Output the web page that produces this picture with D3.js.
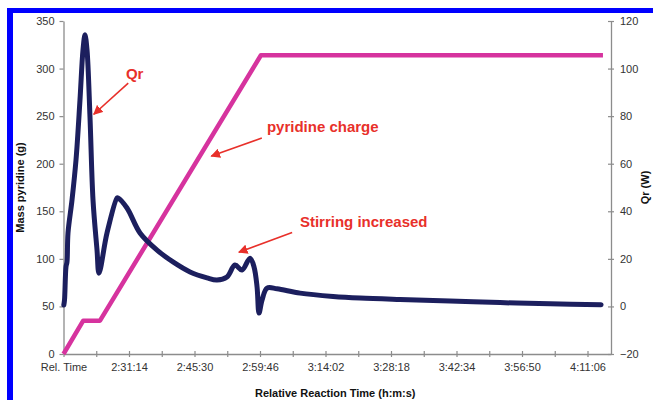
<!DOCTYPE html>
<html>

<head>
    <meta charset="utf-8">
    <title>Qr and pyridine charge</title>
    <script src="https://cdn.jsdelivr.net/npm/d3@7"></script>
    <style>
        body { margin: 0; background: white; }
        text { font-family: Arial, "Liberation Sans", sans-serif; }
    </style>
</head>

<body>
    <script>
        // elapsed minutes from "Rel. Time" origin
        var pyrTime = [0, 4.3, 7.95, 43.0, 117.5];
        var pyrMass = [0, 35, 35, 314, 314];

        var qrTime = [0.07, 0.22, 0.54, 0.76, 0.98, 1.85, 2.72, 3.59, 4.25, 4.68, 5.12, 5.77, 6.43, 7.3, 7.73,
            9.48, 11.66, 11.87, 13.83, 16.66, 20.37, 23.85, 27.56, 31.26, 33.43, 35.61, 37.36, 38.88, 40.63,
            41.5, 42.16, 42.59, 43.25, 44.34, 46.52, 51.53, 58.72, 64.6, 73.3, 84.2, 95.1, 106.0, 117.1];
        var qrWatts = [0.6, 2.7, 16.6, 18.7, 30.9, 44.7, 61.5, 86.8, 107.9, 114.2, 107.9, 79.6, 44.7, 23.7, 14.0,
            30.9, 45.6, 45.6, 41.4, 30.9, 23.7, 18.7, 14.5, 12.0, 11.1, 12.4, 17.4, 15.3, 20.3,
            16.6, 8.2, -2.8, 2.7, 7.7, 7.4, 5.6, 4.2, 3.5, 2.9, 2.3, 1.6, 1.1, 0.7];

        var tickLabels = ["Rel. Time", "2:31:14", "2:45:30", "2:59:46", "3:14:02", "3:28:18", "3:42:34", "3:56:50", "4:11:06"];
        var leftTicks = [0, 50, 100, 150, 200, 250, 300, 350];
        var rightTicks = [-20, 0, 20, 40, 60, 80, 100, 120];

        // annotations: text anchor and arrow (from -> to) in minutes / W
        var notes = [
            { label: "Qr", tx: 13.6, ty: 95.6, x1: 14.1, y1: 93.9, x2: 6.6, y2: 80.8 },
            { label: "pyridine charge", tx: 44.3, ty: 73.3, x1: 43.2, y1: 70.8, x2: 32.2, y2: 63.2 },
            { label: "Stirring increased", tx: 51.5, ty: 33.4, x1: 49.8, y1: 31.1, x2: 38.2, y2: 22.8 }
        ];

        var W = 653, H = 400;
        var plot = { left: 63.5, right: 611, top: 21, bottom: 354 };
        var minPerTick = 856 / 60 / 2;

        var svg = d3.select("body").append("svg")
            .attr("width", W)
            .attr("height", H);

        svg.append("rect").attr("width", W).attr("height", H).attr("fill", "white");
        // blue frame
        svg.append("rect").attr("x", 7).attr("y", 8).attr("width", W - 7).attr("height", 5).attr("fill", "#0000ff");
        svg.append("rect").attr("x", 7).attr("y", 8).attr("width", 6).attr("height", H - 8).attr("fill", "#0000ff");

        var x = d3.scaleLinear()
            .domain([0, (plot.right - plot.left) / (65.5 / (856 / 60))])
            .range([plot.left, plot.right]);
        var yL = d3.scaleLinear().domain([0, 350]).range([plot.bottom, plot.top]);
        var yR = d3.scaleLinear().domain([-20, 120]).range([plot.bottom, plot.top]);

        var tickVals = d3.range(0, 17).map(function (i) { return i * minPerTick; });

        // x axis
        var xAxis = svg.append("g")
            .attr("transform", "translate(0," + plot.bottom + ")")
            .call(d3.axisBottom(x).tickValues(tickVals).tickSizeInner(3).tickSizeOuter(0)
                .tickFormat(function (d, i) { return i % 2 === 0 ? tickLabels[i / 2] : ""; }));
        xAxis.selectAll(".tick line").attr("y1", -3).attr("y2", 3);

        var yAxisL = svg.append("g")
            .attr("transform", "translate(" + plot.left + ",0)")
            .call(d3.axisLeft(yL).tickValues(leftTicks).tickSizeInner(4).tickSizeOuter(0));

        var yAxisR = svg.append("g")
            .attr("transform", "translate(" + plot.right + ",0)")
            .call(d3.axisRight(yR).tickValues(rightTicks).tickSizeInner(3).tickSizeOuter(0)
                .tickFormat(d3.format("d")));
        yAxisR.selectAll(".tick line").attr("x1", -3).attr("x2", 3);

        svg.selectAll(".domain").attr("stroke", "#8c8c8c").attr("stroke-width", 1.3);
        svg.selectAll(".tick line").attr("stroke", "#8c8c8c").attr("stroke-width", 1.2);
        svg.selectAll(".tick text").attr("fill", "#333").style("font-size", "11px")
            .style("font-family", "Arial, 'Liberation Sans', sans-serif");
        xAxis.selectAll(".tick text").attr("dy", "1.05em").attr("y", 5);
        yAxisL.selectAll(".tick text").attr("x", -9);
        yAxisR.selectAll(".tick text").attr("x", 9);

        // pyridine charge
        var pyr = pyrTime.map(function (t, i) { return [t, pyrMass[i]]; });
        svg.append("path")
            .datum(pyr)
            .attr("fill", "none")
            .attr("stroke", "#d6339e")
            .attr("stroke-width", 4.5)
            .attr("stroke-linejoin", "round")
            .attr("d", d3.line().x(d => x(d[0])).y(d => yL(d[1])));

        // Qr
        var qr = qrTime.map(function (t, i) { return [t, qrWatts[i]]; });
        svg.append("path")
            .datum(qr)
            .attr("fill", "none")
            .attr("stroke", "#1c1f5e")
            .attr("stroke-width", 5)
            .attr("stroke-linejoin", "round")
            .attr("stroke-linecap", "round")
            .attr("d", d3.line().curve(d3.curveCatmullRom.alpha(0.5)).x(d => x(d[0])).y(d => yR(d[1])));

        // arrows and labels
        svg.append("defs").append("marker")
            .attr("id", "head")
            .attr("viewBox", "0 0 10 10")
            .attr("refX", 9).attr("refY", 5)
            .attr("markerWidth", 6).attr("markerHeight", 6)
            .attr("orient", "auto")
            .append("path").attr("d", "M0,0L10,5L0,10z").attr("fill", "#e8302a");

        notes.forEach(function (n) {
            svg.append("line")
                .attr("x1", x(n.x1)).attr("y1", yR(n.y1))
                .attr("x2", x(n.x2)).attr("y2", yR(n.y2))
                .attr("stroke", "#e8302a")
                .attr("stroke-width", 1.6)
                .attr("marker-end", "url(#head)");
            svg.append("text")
                .attr("x", x(n.tx)).attr("y", yR(n.ty))
                .attr("fill", "#e8302a")
                .style("font-weight", "bold")
                .style("font-size", "15px")
                .text(n.label);
        });

        // axis titles
        svg.append("text")
            .attr("transform", "translate(24," + ((plot.top + plot.bottom) / 2) + ") rotate(-90)")
            .attr("text-anchor", "middle")
            .style("font-size", "11px").style("font-weight", "bold").attr("fill", "#111")
            .text("Mass pyridine (g)");
        svg.append("text")
            .attr("transform", "translate(649," + ((plot.top + plot.bottom) / 2) + ") rotate(-90)")
            .attr("text-anchor", "middle")
            .style("font-size", "11px").style("font-weight", "bold").attr("fill", "#111")
            .text("Qr (W)");
        svg.append("text")
            .attr("x", (plot.left + plot.right) / 2 - 2)
            .attr("y", 397)
            .attr("text-anchor", "middle")
            .style("font-size", "11px").style("font-weight", "bold").attr("fill", "#111")
            .text("Relative Reaction Time (h:m:s)");
    </script>
</body>

</html>
